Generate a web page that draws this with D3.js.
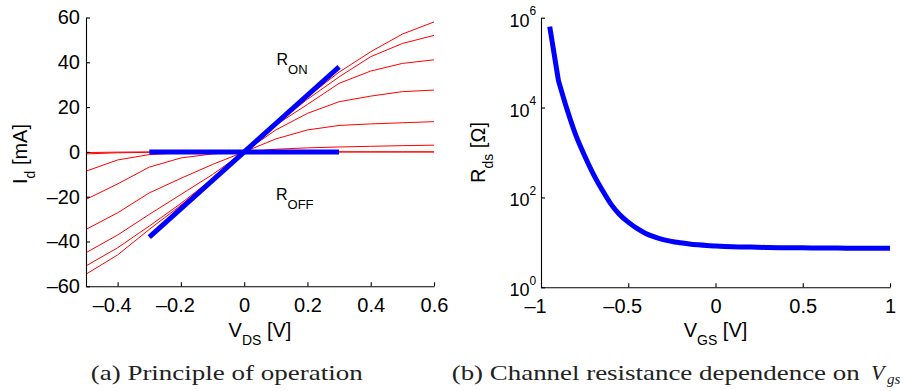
<!DOCTYPE html>
<html>
<head>
<meta charset="utf-8">
<script src="https://cdn.jsdelivr.net/npm/d3@7"></script>
<style>
  html, body { margin: 0; padding: 0; background: #fff; }
  svg { display: block; }
  .sans { font-family: "Liberation Sans", Arial, Helvetica, sans-serif; fill: #000; }
  .serif { font-family: "Liberation Serif", "Times New Roman", serif; fill: #222; }
</style>
</head>
<body>
<svg id="fig" width="907" height="391"></svg>
<script>
// ---- (a) drain current vs drain-source voltage, one curve per gate voltage ----
const vds = [-0.5, -0.4, -0.3, -0.2, -0.1, 0, 0.1, 0.2, 0.3, 0.4, 0.5, 0.6];
const idCurve1 = [-54.6, -46.0, -34.6, -23.8, -12.4, 0, 12.7, 24.6, 35.6, 44.7, 52.6, 58.0];
const idCurve2 = [-50.9, -42.8, -33.1, -23.0, -12.0, 0, 12.5, 23.5, 33.5, 42.5, 48.4, 52.0];
const idCurve3 = [-45.0, -37.1, -27.9, -19.0, -10.1, 0, 12.0, 21.2, 30.6, 36.1, 39.5, 41.1];
const idCurve4 = [-34.6, -27.2, -18.3, -11.8, -5.6, 0, 9.8, 17.2, 22.4, 24.9, 26.9, 27.6];
const idCurve5 = [-21.2, -14.3, -6.8, -2.7, -0.9, 0, 5.8, 9.8, 11.8, 12.5, 13.0, 13.5];
const idCurve6 = [-8.6, -3.6, -1.2, -0.4, -0.1, 0, 1.2, 1.8, 2.2, 2.5, 2.8, 3.0];
const idCurve7 = [-0.9, -0.4, -0.2, -0.1, 0, 0, 0, 0, 0, 0, 0, 0];
const idCurve8 = [-0.3, -0.1, 0, 0, 0, 0, 0, 0, 0, 0, 0, 0];

// on / off resistance guide lines
const ronV = [-0.3, 0.3];
const ronI = [-38, 38];
const roffV = [-0.3, 0.3];
const roffI = [0, 0];

const vdsTicks = [-0.4, -0.2, 0, 0.2, 0.4, 0.6];
const idTicks = [-60, -40, -20, 0, 20, 40, 60];

// ---- (b) channel resistance vs gate-source voltage ----
const vgs = [-0.95, -0.9, -0.85, -0.8, -0.75, -0.7, -0.65, -0.6, -0.55, -0.5, -0.45, -0.4,
             -0.35, -0.3, -0.25, -0.2, -0.15, -0.1, -0.05, 0, 0.1, 0.2, 0.3, 0.4, 0.5,
             0.6, 0.7, 0.8, 0.9, 1.0];
const rds = [631000, 39800, 8900, 2400, 850, 331, 148, 72, 41.7, 28.2, 20.4, 15.8,
             13.2, 11.5, 10.5, 9.8, 9.2, 8.8, 8.5, 8.3, 8.0, 7.85, 7.7, 7.6, 7.55,
             7.5, 7.45, 7.43, 7.41, 7.41];
const vgsTicks = [-1, -0.5, 0, 0.5, 1];
const rdsTicks = [1, 1e2, 1e4, 1e6];
const rdsExponents = ["0", "2", "4", "6"];

const svg = d3.select("#fig");
const FS = 20;

function fmtSigned(d) { return (d < 0 ? "\u2013" : "") + Math.abs(d); }

function styleAxis(g) {
  g.attr("font-family", null);
  g.select(".domain").attr("stroke", "#000").attr("stroke-width", 1.1);
  g.selectAll(".tick line").attr("stroke", "#000").attr("stroke-width", 1.1);
  g.selectAll("text").attr("class", "sans").attr("font-size", FS).attr("fill", "#000");
}

// ================= panel (a) =================
const xA = d3.scaleLinear().domain([-0.5, 0.6]).range([86, 434]);
const yA = d3.scaleLinear().domain([-60, 60]).range([286.3, 17.5]);

const gA = svg.append("g");

const curves = [idCurve1, idCurve2, idCurve3, idCurve4, idCurve5, idCurve6, idCurve7, idCurve8];
const lineA = d3.line().x(d => xA(d[0])).y(d => yA(d[1]));

gA.append("g").selectAll("path")
  .data(curves)
  .join("path")
  .attr("d", c => lineA(vds.map((v, i) => [v, c[i]])))
  .attr("fill", "none")
  .attr("stroke", "#ff0000")
  .attr("stroke-width", 1)
  .attr("stroke-linejoin", "round");

gA.append("path")
  .attr("d", lineA(roffV.map((v, i) => [v, roffI[i]])))
  .attr("fill", "none").attr("stroke", "#0000ff").attr("stroke-width", 5);
gA.append("path")
  .attr("d", lineA(ronV.map((v, i) => [v, ronI[i]])))
  .attr("fill", "none").attr("stroke", "#0000ff").attr("stroke-width", 5);

const axBA = gA.append("g").attr("transform", `translate(0,${yA(-60)})`)
  .call(d3.axisBottom(xA).tickValues(vdsTicks).tickFormat(fmtSigned)
    .tickSizeInner(-4).tickSizeOuter(0).tickPadding(12));
styleAxis(axBA);
axBA.selectAll(".tick text").attr("dx", d => d < 0 ? -6 : 0);

const axLA = gA.append("g").attr("transform", `translate(${xA(-0.5)},0)`)
  .call(d3.axisLeft(yA).tickValues(idTicks).tickFormat(fmtSigned)
    .tickSizeInner(-4).tickSizeOuter(0).tickPadding(6));
styleAxis(axLA);

// axis titles
const xtA = gA.append("text").attr("class", "sans").attr("font-size", FS)
  .attr("x", (xA.range()[0] + xA.range()[1]) / 2).attr("y", 337).attr("text-anchor", "middle");
xtA.append("tspan").text("V");
xtA.append("tspan").attr("font-size", 14).attr("dy", 8).text("DS");
xtA.append("tspan").attr("dy", -8).text(" [V]");

const ytA = gA.append("text").attr("class", "sans").attr("font-size", FS)
  .attr("transform", "translate(27,154) rotate(-90)").attr("text-anchor", "middle");
ytA.append("tspan").text("I");
ytA.append("tspan").attr("font-size", 14).attr("dy", 8).text("d");
ytA.append("tspan").attr("dy", -8).text(" [mA]");

// annotations
const ron = gA.append("text").attr("class", "sans").attr("font-size", 16)
  .attr("x", 276.5).attr("y", 65);
ron.append("tspan").text("R");
ron.append("tspan").attr("font-size", 13).attr("dy", 9).text("ON");

const roff = gA.append("text").attr("class", "sans").attr("font-size", 16)
  .attr("x", 276).attr("y", 200);
roff.append("tspan").text("R");
roff.append("tspan").attr("font-size", 13).attr("dy", 9).text("OFF");

// caption
svg.append("text").attr("class", "serif").attr("font-size", 22)
  .attr("x", 90.7).attr("y", 380)
  .attr("textLength", 272).attr("lengthAdjust", "spacingAndGlyphs")
  .text("(a) Principle of operation");

// ================= panel (b) =================
const xB = d3.scaleLinear().domain([-1, 1]).range([541, 890]);
const yB = d3.scaleLog().domain([1, 1e6]).range([287.3, 17.7]);

const gB = svg.append("g");

// first sample joins with a straight segment, the rest is drawn smooth
const ptsB = vgs.map((v, i) => [v, rds[i]]);
const lineBLin = d3.line().x(d => xB(d[0])).y(d => yB(d[1]));
const lineBSmooth = d3.line().x(d => xB(d[0])).y(d => yB(d[1])).curve(d3.curveMonotoneX);
const pathB = lineBLin(ptsB.slice(0, 2)) + "L" + lineBSmooth(ptsB.slice(1)).slice(1);
gB.append("path")
  .attr("d", pathB)
  .attr("fill", "none").attr("stroke", "#0000ff").attr("stroke-width", 5)
  .attr("stroke-linejoin", "round");

const axBB = gB.append("g").attr("transform", `translate(0,${yB(1)})`)
  .call(d3.axisBottom(xB).tickValues(vgsTicks).tickFormat(fmtSigned)
    .tickSizeInner(-4).tickSizeOuter(0).tickPadding(12));
styleAxis(axBB);
axBB.selectAll(".tick text").attr("dx", d => d < 0 ? -6 : 0);

const axLB = gB.append("g").attr("transform", `translate(${xB(-1)},0)`)
  .call(d3.axisLeft(yB).tickValues(rdsTicks).tickFormat("")
    .tickSizeInner(-4).tickSizeOuter(0));
styleAxis(axLB);

// power-of-ten tick labels
const powLabels = gB.append("g").selectAll("g")
  .data(rdsTicks)
  .join("g")
  .attr("transform", d => `translate(0,${yB(d)})`);
powLabels.append("text").attr("class", "sans").attr("font-size", 18)
  .attr("x", 529.5).attr("y", 9).attr("text-anchor", "end").text("10");
powLabels.append("text").attr("class", "sans").attr("font-size", 12)
  .attr("x", 529.5).attr("y", -2.5).attr("text-anchor", "start")
  .text((d, i) => rdsExponents[i]);

const xtB = gB.append("text").attr("class", "sans").attr("font-size", FS)
  .attr("x", (xB.range()[0] + xB.range()[1]) / 2).attr("y", 337).attr("text-anchor", "middle");
xtB.append("tspan").text("V");
xtB.append("tspan").attr("font-size", 14).attr("dy", 8).text("GS");
xtB.append("tspan").attr("dy", -8).text(" [V]");

const ytB = gB.append("text").attr("class", "sans").attr("font-size", FS)
  .attr("transform", "translate(485,152.5) rotate(-90)").attr("text-anchor", "middle");
ytB.append("tspan").text("R");
ytB.append("tspan").attr("font-size", 14).attr("dy", 8).text("ds");
ytB.append("tspan").attr("dy", -8).text(" [\u03A9]");

// caption
svg.append("text").attr("class", "serif").attr("font-size", 22)
  .attr("x", 451.7).attr("y", 380)
  .attr("textLength", 408).attr("lengthAdjust", "spacingAndGlyphs")
  .text("(b) Channel resistance dependence on");
svg.append("text").attr("class", "serif").attr("font-size", 22)
  .attr("font-style", "italic").attr("x", 871).attr("y", 380).text("V");
svg.append("text").attr("class", "serif").attr("font-size", 15)
  .attr("font-style", "italic").attr("x", 887).attr("y", 384).text("gs");
</script>
</body>
</html>
